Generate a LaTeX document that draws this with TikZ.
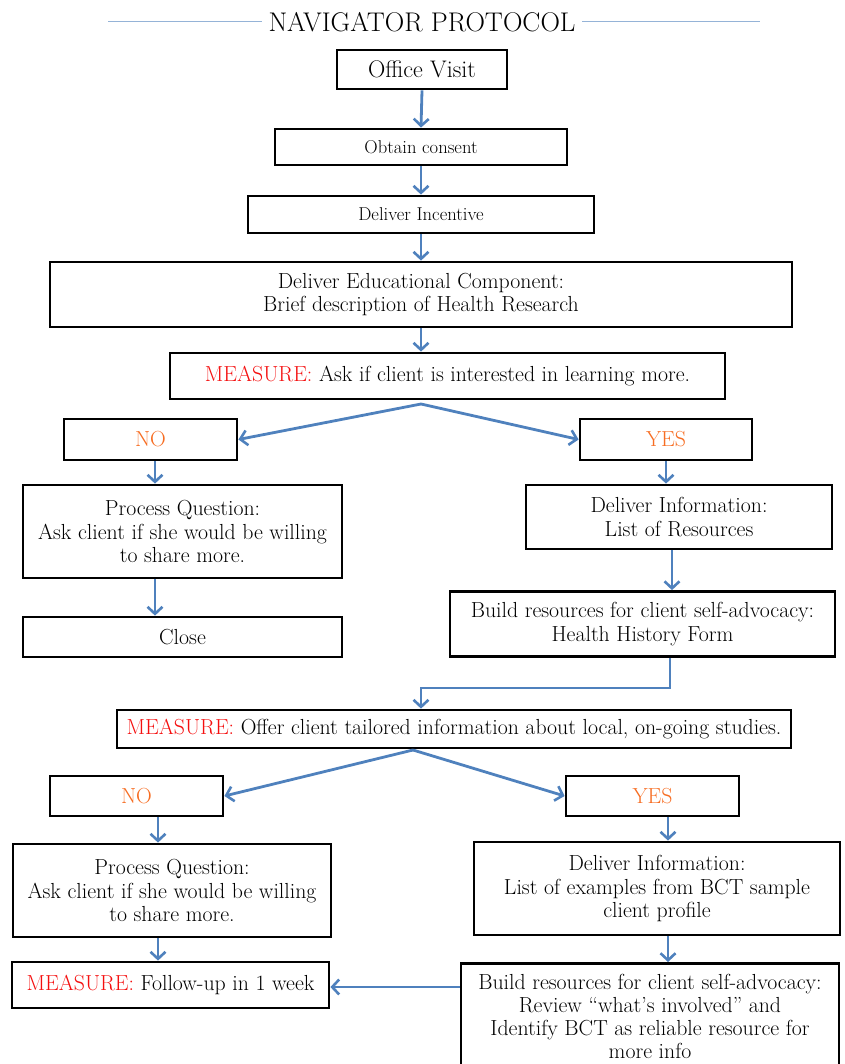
\documentclass[tikz,border=0pt]{standalone}
\usepackage{fontspec}
\usetikzlibrary{arrows.meta}
\definecolor{arrowblue}{RGB}{79,129,189}
\definecolor{titleline}{RGB}{149,179,215}
\definecolor{measurered}{RGB}{245,15,15}
\definecolor{noyes}{RGB}{247,109,34}
\tikzset{
  box/.style={draw=black, line width=2.8pt, fill=white, align=center, inner sep=2pt,
    font=\fontsize{21.8}{23.5}\selectfont},
  smallbox/.style={box, font=\fontsize{18.6}{22}\selectfont},
  flow/.style={draw=arrowblue, line width=2.8pt, -{Straight Barb[length=7pt,width=15pt,line width=2.6pt]}},
}
\newcommand{\meas}{\textcolor{measurered}{MEASURE:}}
\newcommand{\oc}[1]{\textcolor{noyes}{#1}}
\begin{document}
\begin{tikzpicture}[x=1pt,y=-1pt]
\useasboundingbox (0,0) rectangle (844,1064);
% title
\node[font=\fontsize{27}{30}\selectfont, inner sep=0pt] (title) at (422,22) {NAVIGATOR PROTOCOL};
\coordinate (tl1) at (108,22); \coordinate (tl2) at (262,22);
\coordinate (tr1) at (582,22); \coordinate (tr2) at (760,22);
\draw[titleline, line width=1pt] (tl1) -- (tl2);
\draw[titleline, line width=1pt] (tr1) -- (tr2);
% boxes
\node[box, minimum width=170pt, minimum height=39pt, font=\fontsize{24}{26}\selectfont] (office) at (422,69.5) {Office Visit};
\node[smallbox, minimum width=292pt, minimum height=36pt] (consent) at (421,147) {Obtain consent};
\node[smallbox, minimum width=346pt, minimum height=37pt] (incent) at (421,214.5) {Deliver Incentive};
\node[box, minimum width=742pt, minimum height=65pt] (educ) at (421,294.5) {Deliver Educational Component:\\Brief description of Health Research};
\node[box, minimum width=555pt, minimum height=46pt] (m1) at (447.5,376) {\meas{} Ask if client is interested in learning more.};
\node[box, minimum width=173pt, minimum height=41pt] (no1) at (150.5,439.5) {\oc{NO}};
\node[box, minimum width=172pt, minimum height=41pt] (yes1) at (666,439.5) {\oc{YES}};
\node[box, minimum width=319pt, minimum height=93pt] (pq1) at (182.5,531.5) {Process Question:\\Ask client if she would be willing\\to share more.};
\node[box, minimum width=306pt, minimum height=64pt] (di1) at (679,517) {Deliver Information:\\List of Resources};
\node[box, minimum width=319pt, minimum height=40pt] (close) at (182.5,637) {Close};
\node[box, minimum width=385pt, minimum height=65pt] (br1) at (642.5,624) {Build resources for client self-advocacy:\\Health History Form};
\node[box, minimum width=674pt, minimum height=38pt] (m2) at (454,729) {\meas{} Offer client tailored information about local, on-going studies.};
\node[box, minimum width=173pt, minimum height=40pt] (no2) at (136.5,796) {\oc{NO}};
\node[box, minimum width=173pt, minimum height=40pt] (yes2) at (652.5,796) {\oc{YES}};
\node[box, minimum width=318pt, minimum height=93pt] (pq2) at (172,890.5) {Process Question:\\Ask client if she would be willing\\to share more.};
\node[box, minimum width=366pt, minimum height=93pt] (di2) at (657,888.5) {Deliver Information:\\List of examples from BCT sample\\client profile};
\node[box, minimum width=317pt, minimum height=46pt] (fu) at (170.5,985) {\meas{} Follow-up in 1 week};
\node[box, minimum width=378pt, inner ysep=11pt, anchor=north, font=\fontsize{21.8}{23}\selectfont] (br2) at (650,962) {Build resources for client self-advocacy:\\Review ``what's involved'' and\\Identify BCT as reliable resource for\\more info};
% connectors
\draw[flow] (office.south) -- (consent.north);
\draw[flow] (consent.south) -- (incent.north);
\draw[flow] (incent.south) -- (educ.north);
\draw[flow] (educ.south) -- (educ.south |- m1.north);
\coordinate (m1s) at (421,404);
\draw[flow] (m1s) -- (no1.east);
\draw[flow] (m1s) -- (yes1.west);
\draw[flow] (no1.south -| 155,0) -- (pq1.north -| 155,0);
\draw[flow] (yes1.south) -- (di1.north -| yes1.south);
\draw[flow] (pq1.south -| 155,0) -- (close.north -| 155,0);
\draw[flow] (di1.south -| 672,0) -- (br1.north -| 672,0);
\draw[flow] (br1.south -| 670,0) -- (670,688) -- (421,688) -- (m2.north -| 421,0);
\coordinate (m2s) at (413,750);
\draw[flow] (m2s) -- (no2.east);
\draw[flow] (m2s) -- (yes2.west);
\draw[flow] (no2.south -| 158,0) -- (pq2.north -| 158,0);
\draw[flow] (yes2.south -| 668,0) -- (di2.north -| 668,0);
\draw[flow] (pq2.south -| 158,0) -- (fu.north -| 158,0);
\draw[flow] (di2.south -| 668,0) -- (br2.north -| 668,0);
\draw[flow] (br2.west |- 0,987) -- (fu.east |- 0,987);
\end{tikzpicture}
\end{document}
